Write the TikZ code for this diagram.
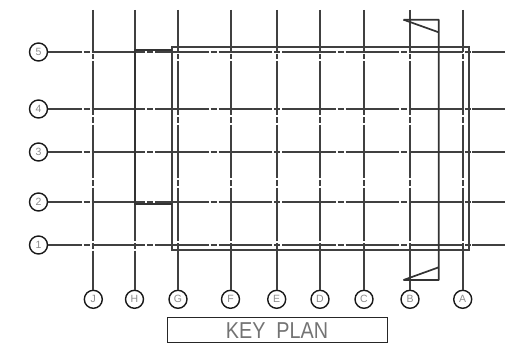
\documentclass[tikz,border=0pt]{standalone}
\usepackage{fontspec}
\setmainfont{Liberation Sans}
\tikzset{
  grid axis/.style={line width=2pt,black!75},
  axis h/.style={grid axis,dash pattern=on 53.5pt off 2pt on 6pt off 2pt,dash phase=20pt},
  axis v/.style={grid axis,dash pattern=on 53.5pt off 2pt on 5.5pt off 2pt,dash phase=11.5pt},
  bubble/.style={circle,draw=black!90,line width=1.4pt,minimum size=18pt,inner sep=0pt,
    font=\fontsize{10.5}{10.5}\selectfont,text=black!45},
  outline/.style={line width=2pt,black!75},
  wing/.style={line width=2pt,black!80},
  cutline/.style={line width=1.7pt,black!80,line join=bevel}
}
\begin{document}
\begin{tikzpicture}[x=1pt,y=-1pt]
\useasboundingbox (0,0) rectangle (510,350);
% horizontal axes
\foreach \lab/\yy in {5/52,4/109,3/152,2/202,1/245}{
  \node[bubble] (r\lab) at (38.5,\yy) {\lab};
  \coordinate (rm\lab) at (472,\yy);
  \coordinate (re\lab) at (505,\yy);
  \draw[axis h] (r\lab.east) -- (rm\lab);
  \draw[grid axis] (rm\lab) -- (re\lab);
}
% vertical axes
\foreach \lab/\xx in {J/93.3,H/134.5,G/178,F/230.5,E/276.7,D/320,C/364,B/410,A/462.7}{
  \node[bubble] (c\lab) at (\xx,299.3) {\lab};
  \coordinate (ct\lab) at (\xx,10);
  \draw[axis v] (ct\lab) -- (c\lab.north);
}
% building outline
\draw[outline] (172,46.7) rectangle (468.7,250);
% wing
\draw[wing] (172,50) -- (134.5,50) -- (134.5,204) -- (172,204);
% section line
\draw[cutline] (403.5,19.7) -- (438.7,19.7) -- (438.7,280) -- (403.5,280) -- (438.7,267.3);
\draw[cutline] (403.5,19.7) -- (438.7,32.3);
% title
\node[draw=black!85,line width=1.5pt,minimum width=220pt,minimum height=25pt,inner sep=0pt] (title)
  at (277.5,330) {};
\node[inner sep=0pt,text=black!55,font=\fontsize{23}{23}\selectfont,xscale=0.86] (titletext)
  at (277,330.5) {KEY\hspace{0.55em}PLAN};
\end{tikzpicture}
\end{document}
